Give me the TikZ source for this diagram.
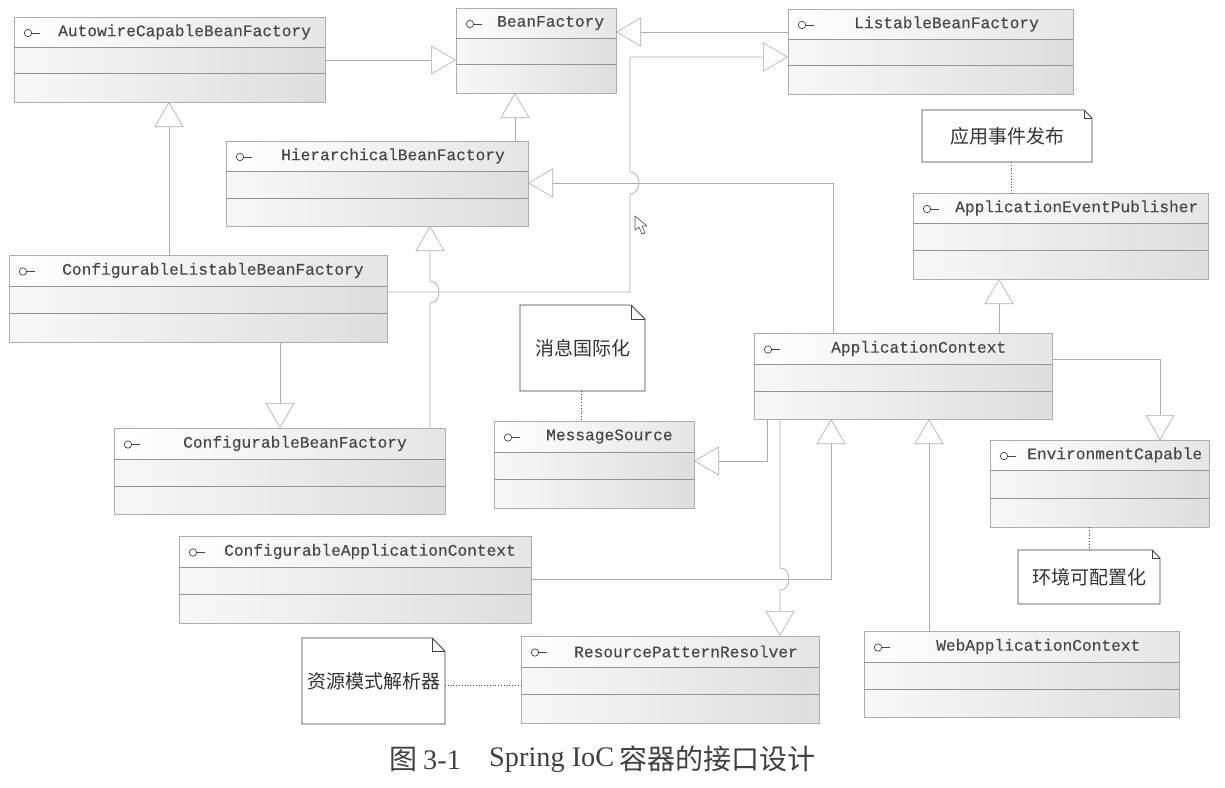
\documentclass[tikz,border=0pt]{standalone}
\usepackage{fontspec}
\setmainfont{Liberation Serif}
\newfontfamily\umlfont[FakeBold=0.2]{Liberation Mono}
\newfontfamily\cjk{Noto Sans CJK SC}
\usetikzlibrary{arrows.meta,fit,calc}
\definecolor{ln}{gray}{0.68}
\definecolor{bx}{gray}{0.68}
\definecolor{dv}{gray}{0.58}
\definecolor{tx}{gray}{0.28}
\definecolor{hdr}{gray}{0.9}
\definecolor{bodyl}{gray}{0.97}
\definecolor{bodyr}{gray}{0.87}
\tikzset{
  x=1pt,y=-1pt,
  conn/.style={draw=ln,line width=0.7pt},
  gen/.style={conn,-{Triangle[open,length=25pt,width=29pt,line width=0.6pt]}},
  notelink/.style={draw=black!70,line width=0.8pt,dotted},
  umlbox/.style={inner sep=0pt,outer sep=0pt,draw=bx,line width=0.7pt,left color=bodyl,right color=bodyr},
  umldiv/.style={draw=dv,line width=0.7pt},
  umlname/.style={inner sep=0pt,text=tx,font=\fontsize{16.2}{18}\selectfont\umlfont,anchor=west},
  notebox/.style={inner sep=0pt,outer sep=0pt,text=black!80,font=\fontsize{19}{22}\selectfont\cjk},
  noteline/.style={draw=black!75,line width=0.8pt},
  captiontext/.style={inner sep=0pt,text=black!75,anchor=west},
  captionlatin/.style={captiontext,font=\fontsize{28.3}{30}\selectfont},
  captioncjk/.style={captiontext,font=\fontsize{28}{30}\selectfont\cjk}
}
% name, x1, y1, x2, y2, divider1, divider2, text x, text
\newcommand{\umlnode}[9]{%
  \node[umlbox,fit={(#2,#3) (#4,#5)}] (#1) {};
  \shade[left color=white,right color=hdr] (#2,#3) rectangle (#4,#6);
  \draw[bx,line width=0.7pt] (#2,#3) rectangle (#4,#5);
  \draw[umldiv] (#2,#6) -- (#4,#6);
  \draw[umldiv] (#2,#7) -- (#4,#7);
  \pgfmathsetmacro{\umly}{(#3+#6)/2}
  \pgfmathsetmacro{\umlx}{#2+14}
  \draw[tx,line width=0.7pt] (\umlx,\umly+1) circle[radius=3.7pt];
  \draw[tx,line width=0.7pt] (\umlx+3.7,\umly+1) -- (\umlx+12,\umly+1);
  \node[umlname] (#1-t) at (#8,\umly) {#9};
}
% name, x1, y1, x2, y2, fold, text
\newcommand{\notenode}[7]{%
  \node[notebox,fit={(#2,#3) (#4,#5)}] (#1) {};
  \node[notebox] (#1-t) at (#1.center) {#7};
  \draw[noteline] (#1.north west) -- ($(#1.north east)+(-#6,0)$) -- ($(#1.north east)+(0,#6)$) -- (#1.south east) -- (#1.south west) -- cycle;
  \draw[noteline,line width=0.6pt] ($(#1.north east)+(-#6,0)$) -- ($(#1.north east)+(-#6,#6)$) -- ($(#1.north east)+(0,#6)$);
}
\begin{document}
\begin{tikzpicture}
\useasboundingbox (0,0) rectangle (1225,787);
\fill[white] (0,0) rectangle (1225,787);
\umlnode{auto}{14}{17}{325}{102}{47}{73}{58}{AutowireCapableBeanFactory}
\umlnode{bean}{456}{8}{616}{93}{38}{64}{497}{BeanFactory}
\umlnode{list}{788}{9}{1073}{94}{39}{65}{854}{ListableBeanFactory}
\umlnode{hier}{226}{141}{528}{226}{171}{198}{281}{HierarchicalBeanFactory}
\umlnode{cfgl}{9}{255}{387}{342}{286}{313}{62}{ConfigurableListableBeanFactory}
\umlnode{cfgb}{114}{428}{445}{514}{459}{486}{183}{ConfigurableBeanFactory}
\umlnode{msg}{494}{421}{694}{508}{452}{479}{546}{MessageSource}
\umlnode{app}{754}{333}{1052}{419}{364}{391}{831}{ApplicationContext}
\umlnode{pub}{913}{193}{1208}{279}{223}{250}{955}{ApplicationEventPublisher}
\umlnode{env}{990}{440}{1209}{527}{470}{498}{1027}{EnvironmentCapable}
\umlnode{cfga}{179}{536}{531}{623}{567}{594}{224}{ConfigurableApplicationContext}
\umlnode{res}{521}{636}{819}{723}{667}{694}{574}{ResourcePatternResolver}
\umlnode{web}{864}{631}{1179}{717}{662}{689}{936}{WebApplicationContext}
\notenode{n1}{922}{110}{1092}{162}{8}{应用事件发布}
\notenode{n2}{520}{305}{645}{391}{14}{消息国际化}
\notenode{n3}{1018}{550}{1160}{604}{8}{环境可配置化}
\notenode{n4}{302}{638}{445}{724}{13}{资源模式解析器}
% generalisation connectors
\draw[gen] (auto.east |- 0,60) -- (bean.west |- 0,60);
\draw[gen] (list.west |- 0,32) -- (bean.east |- 0,32);
\draw[gen] (hier.north -| 515,0) -- (bean.south -| 515,0);
\draw[gen] (cfgl.north -| 169,0) -- (auto.south -| 169,0);
\draw[gen] (cfgl.south -| 280,0) -- (cfgb.north -| 280,0);
\draw[gen] (cfgb.north -| 430,0) -- (430,303) .. controls (442,303) and (442,281) .. (430,281) -- (hier.south -| 430,0);
\draw[gen] (cfgl.east |- 0,292) -- (630,292) -- (630,194) .. controls (642,194) and (642,172) .. (630,172) -- (630,57) -- (list.west |- 0,57);
\draw[gen] (app.north -| 833,0) -- (833,183) -- (hier.east |- 0,183);
\draw[gen] (app.north -| 999,0) -- (pub.south -| 999,0);
\draw[gen] (app.east |- 0,359) -- (1160,359) -- (env.north -| 1160,0);
\draw[gen] (app.south -| 767,0) -- (767,461) -- (msg.east |- 0,461);
\draw[gen] (app.south -| 780,0) -- (780,568) .. controls (792,568) and (792,590) .. (780,590) -- (res.north -| 780,0);
\draw[gen] (cfga.east |- 0,579) -- (831,579) -- (app.south -| 831,0);
\draw[gen] (web.north -| 929,0) -- (app.south -| 929,0);
% note links
\draw[notelink] (n1.south -| 1011,0) -- (pub.north -| 1011,0);
\draw[notelink] (n2.south -| 581,0) -- (msg.north -| 581,0);
\draw[notelink] (env.south -| 1089,0) -- (n3.north -| 1089,0);
\draw[notelink] (n4.east |- 0,685) -- (res.west |- 0,685);
% mouse pointer
\draw[black!65,fill=white,line width=0.7pt,line join=round] (635,216) -- (635,230) -- (639,227) -- (642,234) -- (645,233) -- (642,226) -- (647,226) -- cycle;
% caption
\node[captioncjk] (cap1) at (389,759) {图};
\node[captionlatin] (cap2) at (423,760) {3-1};
\node[captionlatin] (cap3) at (489,760) {Spring IoC};
\node[captioncjk] (cap4) at (619,759) {容器的接口设计};
\end{tikzpicture}
\end{document}
